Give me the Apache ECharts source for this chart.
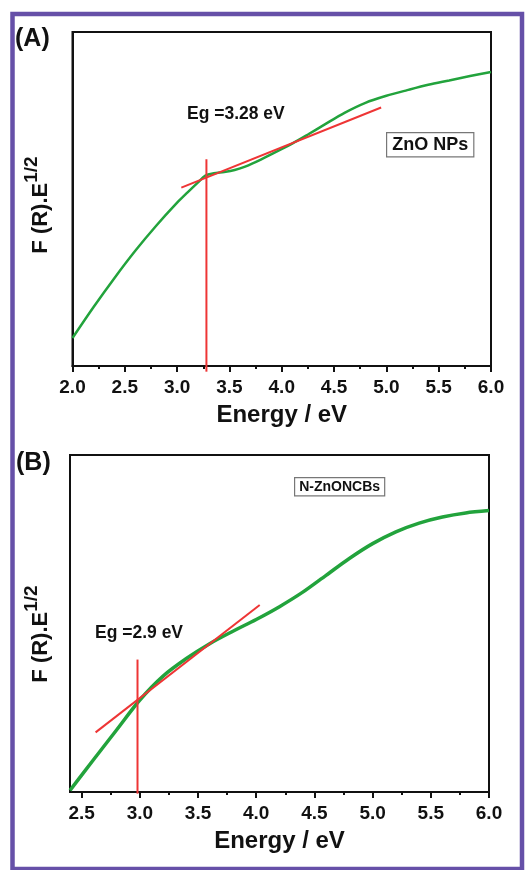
<!DOCTYPE html>
<html>
<head>
<meta charset="utf-8">
<script src="https://cdn.jsdelivr.net/npm/echarts@6/dist/echarts.min.js"></script>
<style>
html,body{margin:0;padding:0;background:#fff;}
#c{width:530px;height:870px;}
</style>
</head>
<body>
<div id="c"></div>
<script>
// Panel A: ZnO NPs
const energyA = [2.0, 2.2, 2.4, 2.6, 2.8, 3.0, 3.1, 3.2, 3.27, 3.35, 3.45, 3.55, 3.65, 3.8, 3.95, 4.1, 4.25, 4.4, 4.6, 4.8, 5.0, 5.2, 5.4, 5.6, 5.8, 6.0];
const signalA = [8.4, 17.6, 26.3, 34.5, 42.0, 48.9, 52.0, 55.0, 57.0, 57.7, 58.1, 58.7, 59.7, 61.8, 64.2, 66.6, 69.3, 72.1, 75.8, 78.8, 80.9, 82.6, 84.2, 85.5, 86.8, 88.0];
const tangentAx = [3.04, 4.95];
const tangentAy = [53.4, 77.4];
const egA = 3.28;
const egAy = [61.9, -1.7];

// Panel B: N-ZnONCBs
const energyB = [2.4, 2.6, 2.8, 3.0, 3.2, 3.4, 3.6, 3.8, 4.0, 4.2, 4.4, 4.6, 4.8, 5.0, 5.2, 5.4, 5.6, 5.8, 6.0];
const signalB = [0.5, 9.5, 18.4, 27.3, 34.4, 39.6, 44.0, 47.7, 51.2, 55.0, 59.3, 64.3, 69.3, 73.7, 77.2, 79.8, 81.6, 82.8, 83.5];
const tangentBx = [2.62, 4.03];
const tangentBy = [17.7, 55.5];
const egB = 2.98;
const egBy = [39.3, -0.5];

const ticksBMajor = [2.5, 3.0, 3.5, 4.0, 4.5, 5.0, 5.5, 6.0];
const ticksBMinor = [2.75, 3.25, 3.75, 4.25, 4.75, 5.25, 5.75];

const FONT = "'Liberation Sans', Arial, sans-serif";
const GREEN = '#22a33c';
const RED = '#ee3535';
const PURPLE = '#6650a8';

const zip = (a, b) => a.map((v, i) => [v, b[i]]);

function xAxisMain(gridIndex, min, extra) {
  return Object.assign({
    type: 'value', gridIndex, min, max: 6,
    axisLine: { show: true, onZero: false, lineStyle: { color: '#111', width: 2 } },
    axisTick: { show: true, inside: false, length: 6, lineStyle: { color: '#111', width: 2 } },
    axisLabel: { show: true, margin: 12, color: '#111', fontFamily: FONT, fontWeight: 'bold', fontSize: 19,
      formatter: v => v.toFixed(1) },
    splitLine: { show: false },
    name: 'Energy / eV', nameLocation: 'middle', nameGap: 37,
    nameTextStyle: { color: '#111', fontFamily: FONT, fontWeight: 'bold', fontSize: 24 }
  }, extra);
}

function yAxisMain(gridIndex) {
  return {
    type: 'value', gridIndex, min: 0, max: 100,
    axisLine: { show: true, lineStyle: { color: '#111', width: 2 } },
    axisTick: { show: false }, axisLabel: { show: false }, splitLine: { show: false }
  };
}

const yTitleRich = {
  a: { fontFamily: FONT, fontWeight: 'bold', fontSize: 22, fill: '#111', lineHeight: 30, verticalAlign: 'bottom' },
  b: { fontFamily: FONT, fontWeight: 'bold', fontSize: 19, fill: '#111', lineHeight: 30, verticalAlign: 'top' }
};

const chart = echarts.init(document.getElementById('c'), null, { renderer: 'canvas' });
chart.setOption({
  backgroundColor: '#fff',
  animation: false,
  grid: [
    { left: 72.5, top: 32, width: 418.5, height: 334, show: true, borderColor: '#111', borderWidth: 2, backgroundColor: 'transparent' },
    { left: 70, top: 455, width: 419, height: 337, show: true, borderColor: '#111', borderWidth: 2, backgroundColor: 'transparent' }
  ],
  xAxis: [
    xAxisMain(0, 2.0, { interval: 0.5, minorTick: { show: true, splitNumber: 2, length: 3, lineStyle: { color: '#111', width: 2 } } }),
    xAxisMain(1, 2.4, {
      axisTick: { show: true, inside: false, length: 6, customValues: ticksBMajor, lineStyle: { color: '#111', width: 2 } },
      axisLabel: { show: true, margin: 12, color: '#111', fontFamily: FONT, fontWeight: 'bold', fontSize: 19,
        customValues: ticksBMajor, formatter: v => v.toFixed(1) }
    }),
    {
      type: 'value', gridIndex: 1, min: 2.4, max: 6, position: 'bottom',
      axisLine: { show: false }, axisLabel: { show: false }, splitLine: { show: false },
      axisTick: { show: true, inside: false, length: 3, customValues: ticksBMinor, lineStyle: { color: '#111', width: 2 } }
    }
  ],
  yAxis: [yAxisMain(0), yAxisMain(1)],
  series: [
    { type: 'line', xAxisIndex: 0, yAxisIndex: 0, data: zip(energyA, signalA), smooth: 0.3, showSymbol: false,
      lineStyle: { color: GREEN, width: 2.5 }, z: 3 },
    { type: 'line', xAxisIndex: 0, yAxisIndex: 0, data: zip(tangentAx, tangentAy), showSymbol: false,
      lineStyle: { color: RED, width: 2 }, z: 4 },
    { type: 'line', xAxisIndex: 0, yAxisIndex: 0, data: [[egA, egAy[0]], [egA, egAy[1]]], showSymbol: false, clip: false,
      lineStyle: { color: RED, width: 2 }, z: 4 },
    { type: 'line', xAxisIndex: 1, yAxisIndex: 1, data: zip(energyB, signalB), smooth: 0.3, showSymbol: false,
      lineStyle: { color: GREEN, width: 3.5 }, z: 3 },
    { type: 'line', xAxisIndex: 1, yAxisIndex: 1, data: zip(tangentBx, tangentBy), showSymbol: false,
      lineStyle: { color: RED, width: 2 }, z: 4 },
    { type: 'line', xAxisIndex: 1, yAxisIndex: 1, data: [[egB, egBy[0]], [egB, egBy[1]]], showSymbol: false, clip: false,
      lineStyle: { color: RED, width: 2 }, z: 4 }
  ],
  graphic: [
    { type: 'rect', shape: { x: 12.5, y: 14, width: 509.5, height: 855 }, style: { fill: 'none', stroke: PURPLE, lineWidth: 4.5 }, z: 10 },
    { type: 'text', left: 15, top: 27, style: { text: '(A)', font: "bold 25px 'Liberation Sans', Arial", fill: '#111' } },
    { type: 'text', left: 16, top: 451, style: { text: '(B)', font: "bold 25px 'Liberation Sans', Arial", fill: '#111' } },
    { type: 'text', x: 37, y: 205, rotation: Math.PI / 2,
      style: { text: '{a|F (R).E}{b|1/2}', rich: yTitleRich, align: 'center', verticalAlign: 'middle' } },
    { type: 'text', x: 37, y: 634, rotation: Math.PI / 2,
      style: { text: '{a|F (R).E}{b|1/2}', rich: yTitleRich, align: 'center', verticalAlign: 'middle' } },
    { type: 'text', left: 187, top: 105, style: { text: 'Eg =3.28 eV', font: "bold 17.5px 'Liberation Sans', Arial", fill: '#111' } },
    { type: 'text', left: 95, top: 624, style: { text: 'Eg =2.9 eV', font: "bold 17.5px 'Liberation Sans', Arial", fill: '#111' } },
    { type: 'text', left: 386, top: 132, style: { text: 'ZnO NPs', font: "bold 18px 'Liberation Sans', Arial", fill: '#111',
        backgroundColor: '#fff', borderColor: '#777', borderWidth: 1.2, padding: [3, 5, 2, 5] } },
    { type: 'text', left: 294, top: 477, style: { text: 'N-ZnONCBs', font: "bold 14px 'Liberation Sans', Arial", fill: '#111',
        backgroundColor: '#fff', borderColor: '#777', borderWidth: 1.2, padding: [2, 4, 1, 4] } }
  ]
});
</script>
</body>
</html>
